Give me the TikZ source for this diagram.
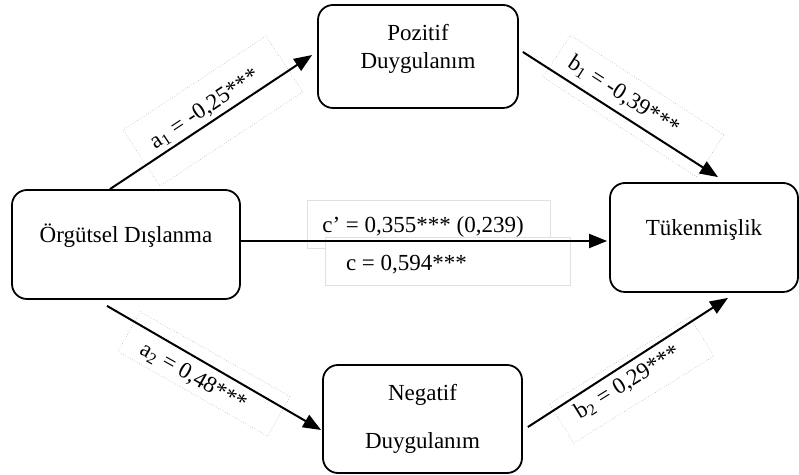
\documentclass[tikz,border=0pt]{standalone}
\usepackage{fontspec}
\setmainfont{Liberation Serif}
\usepackage{tikz}
\tikzset{
  node_font/.style = {font=\fontsize{11.5}{14}\selectfont},
  coef_font/.style = {font=\fontsize{11.5}{14}\selectfont},
  box_line/.style = {line width=0.9pt, rounded corners=7.5pt}
}
\tikzset{
  var_box/.style = {node_font, box_line, draw, align=center},
  coef/.style = {coef_font, draw=black!30, densely dotted, line width=0.3pt, inner sep=2pt},
  coef_box/.style = {coef, solid, draw=black!12, fill=white},
  path_arrow/.style = {-{Triangle[length=9pt,width=7pt]}, line width=1pt}
}
\usetikzlibrary{arrows.meta}

\begin{document}
\begin{tikzpicture}[x=0.5pt, y=-0.5pt]
        \useasboundingbox (0,0) rectangle (799,475);

        % Variables
        \node[var_box, minimum width=114pt, minimum height=54.5pt, text height=8pt, text depth=9.5pt] at (126,244.5) (dis) {
            Örgütsel Dışlanma};
        \node[var_box, minimum width=100pt, minimum height=51.5pt] at (418,56.5) (poz) {
            Pozitif\\Duygulanım\\[-4pt]};
        \node[var_box, minimum width=99.5pt, minimum height=54pt] at (422.5,419) (neg) {
            Negatif\\[10pt]Duygulanım};
        \node[var_box, minimum width=94pt, minimum height=54.5pt, text height=8pt, text depth=9.5pt] at (704,237.5) (tuk) {
            Tükenmişlik};

        % Coefficients
        \node[coef, rotate=33.4, minimum width=85.5pt, minimum height=33.5pt, text height=8pt, text depth=8pt] at (213,111) (a_1) {
            a\textsubscript{1} = -0,25***\hspace*{6pt}};
        \node[coef, rotate=-33, minimum width=91.5pt, minimum height=25pt, text height=8pt, text depth=5pt] at (633.5,106) (b_1) {
            b\textsubscript{1} = -0,39***\hspace*{14pt}};
        \node[coef, rotate=-29.5, minimum width=86pt, minimum height=22.75pt, text height=14pt, text depth=0pt] at (204,374) (a_2) {
            a\textsubscript{2} = 0,48***\hspace*{8pt}};
        \node[coef, rotate=31.8, minimum width=82.5pt, minimum height=23pt] at (631.7,380) (b_2) {
            b\textsubscript{2} = 0,29***\hspace*{5pt}};
        \node[coef_box, minimum width=121.5pt, minimum height=24pt, text height=8.5pt, text depth=0pt] at (428.5,224) (c_1) {
            c’ = 0,355*** (0,239)\hspace*{5.5pt}};
        \node[coef_box, minimum width=122.5pt, minimum height=24pt, text height=10pt, text depth=0pt] at (447.5,261) (c_2) {
            c = 0,594***\hspace*{41pt}};

        % Arrows
        \draw[path_arrow] ([xshift=-8pt]dis.north) -- ([xshift=-2.5pt,yshift=0.75pt]poz.west);
        \draw[path_arrow] ([xshift=2pt,yshift=2.25pt]poz.east) -- ([xshift=7pt,yshift=2.5pt]tuk.north);
        \draw[path_arrow] ([xshift=-9.5pt,yshift=-3pt]dis.south) -- ([xshift=-0.5pt,yshift=-5.5pt]neg.west);
        \draw[path_arrow] ([xshift=2.5pt,yshift=-4pt]neg.east) -- ([xshift=12pt,yshift=-2.5pt]tuk.south);
        \draw[path_arrow] ([yshift=1.75pt]dis.east) -- ([xshift=-1pt,yshift=-1.75pt]tuk.west);
\end{tikzpicture}
\end{document}
